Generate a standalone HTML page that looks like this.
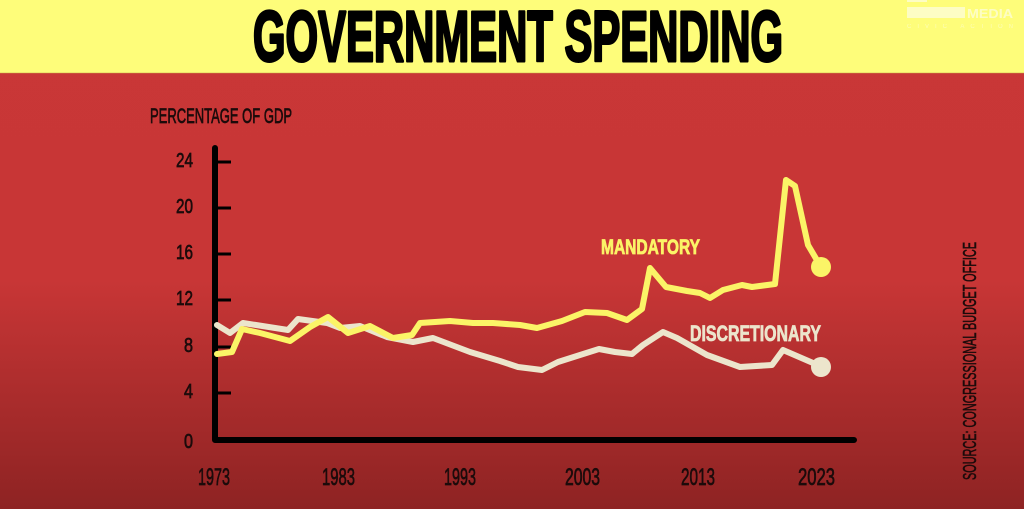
<!DOCTYPE html>
<html>
<head>
<meta charset="utf-8">
<style>
html,body{margin:0;padding:0;width:1024px;height:509px;overflow:hidden;background:#c83737;}
svg{display:block;}
</style>
</head>
<body>
<svg width="1024" height="509" viewBox="0 0 1024 509" xmlns="http://www.w3.org/2000/svg">
  <defs>
    <linearGradient id="bg" x1="0" y1="0" x2="0" y2="1">
      <stop offset="0" stop-color="#c93737"/>
      <stop offset="0.55" stop-color="#c83636"/>
      <stop offset="1" stop-color="#8e2323"/>
    </linearGradient>
  </defs>
  <rect x="0" y="0" width="1024" height="509" fill="url(#bg)"/>
  <rect x="0" y="0" width="1024" height="73" fill="#fefd7a"/>
  <line x1="0" y1="73" x2="1024" y2="73" stroke="#c9a04a" stroke-width="1" opacity="0.5"/>

  <!-- logo (faint) -->
  <rect x="907" y="7" width="58" height="11" fill="#fdfdc4"/>
  <rect x="907" y="0" width="20" height="2" fill="#fdfdc4"/>
  <text x="967" y="18" font-family="Liberation Sans, sans-serif" font-size="13" font-weight="bold" fill="#fdfdc4" textLength="46" lengthAdjust="spacingAndGlyphs">MEDIA</text>
  <text x="907" y="28" font-family="Liberation Sans, sans-serif" font-size="6" fill="#fdfdc4" textLength="106" lengthAdjust="spacing" opacity="0.8">CIVIC ACTION</text>

  <!-- title -->
  <text x="253" y="61" font-family="Liberation Sans, sans-serif" font-size="71" font-weight="bold" fill="#000" stroke="#000" stroke-width="3" stroke-linejoin="round" textLength="530" lengthAdjust="spacingAndGlyphs">GOVERNMENT SPENDING</text>

  <!-- y axis title -->
  <text x="150" y="123" font-family="Liberation Sans, sans-serif" font-size="21" fill="#1c0b0b" stroke="#1c0b0b" stroke-width="0.7" textLength="142" lengthAdjust="spacingAndGlyphs">PERCENTAGE OF GDP</text>

  <!-- axes -->
  <path d="M215 148 L215 440 L854 440" fill="none" stroke="#000" stroke-width="6" stroke-linecap="round" stroke-linejoin="round"/>
  <g stroke="#000" stroke-width="3">
    <line x1="215" y1="162" x2="231" y2="162"/>
    <line x1="215" y1="208" x2="231" y2="208"/>
    <line x1="215" y1="254" x2="231" y2="254"/>
    <line x1="215" y1="300" x2="231" y2="300"/>
    <line x1="215" y1="347" x2="231" y2="347"/>
    <line x1="215" y1="393" x2="231" y2="393"/>
  </g>

  <!-- y tick labels -->
  <g font-family="Liberation Sans, sans-serif" font-size="20" fill="#1c0b0b" stroke="#1c0b0b" stroke-width="0.7" text-anchor="end">
    <text x="193" y="167" textLength="17" lengthAdjust="spacingAndGlyphs">24</text>
    <text x="193" y="213" textLength="17" lengthAdjust="spacingAndGlyphs">20</text>
    <text x="193" y="259" textLength="17" lengthAdjust="spacingAndGlyphs">16</text>
    <text x="193" y="305" textLength="17" lengthAdjust="spacingAndGlyphs">12</text>
    <text x="193" y="352" textLength="9" lengthAdjust="spacingAndGlyphs">8</text>
    <text x="193" y="398" textLength="9" lengthAdjust="spacingAndGlyphs">4</text>
    <text x="193" y="448" textLength="9" lengthAdjust="spacingAndGlyphs">0</text>
  </g>

  <!-- x tick labels -->
  <g font-family="Liberation Sans, sans-serif" font-size="24" fill="#1c0b0b" stroke="#1c0b0b" stroke-width="0.7">
    <text x="198" y="485" textLength="32" lengthAdjust="spacingAndGlyphs">1973</text>
    <text x="322" y="485" textLength="33" lengthAdjust="spacingAndGlyphs">1983</text>
    <text x="444" y="485" textLength="32" lengthAdjust="spacingAndGlyphs">1993</text>
    <text x="565" y="485" textLength="35" lengthAdjust="spacingAndGlyphs">2003</text>
    <text x="681" y="485" textLength="34" lengthAdjust="spacingAndGlyphs">2013</text>
    <text x="798" y="485" textLength="37" lengthAdjust="spacingAndGlyphs">2023</text>
  </g>

  <!-- discretionary -->
  <polyline fill="none" stroke="#ece5cc" stroke-width="6" stroke-linejoin="round" stroke-linecap="round"
    points="217,325 230,333 243,323 288,330 298,319 327,323 340,328 360,326 387,337 413,342 433,338 470,352 500,361 518,367 542,370 558,362 580,355 599,349 615,352 632,354 643,345 663,332 677,338 707,355 740,367 772,365 783,350 820,366"/>
  <circle cx="821" cy="367" r="10" fill="#ece5cc"/>

  <!-- mandatory -->
  <polyline fill="none" stroke="#fbf467" stroke-width="6" stroke-linejoin="round" stroke-linecap="round"
    points="217,354 232,352 242,329 260,333 290,341 310,327 328,317 348,333 370,326 393,338 412,335 420,323 450,321 473,323 493,323 520,325 537,328 562,321 585,312 607,313 627,320 642,309 650,268 666,287 687,291 700,293 710,298 723,290 742,285 752,287 775,284 786,180 795,186 808,245 821,267"/>
  <circle cx="821" cy="267" r="10" fill="#fbf467"/>

  <!-- series labels -->
  <text x="601" y="254" font-family="Liberation Sans, sans-serif" font-size="21" font-weight="bold" fill="#fbf467" stroke="#fbf467" stroke-width="0.8" textLength="99" lengthAdjust="spacingAndGlyphs">MANDATORY</text>
  <text x="690" y="341" font-family="Liberation Sans, sans-serif" font-size="22" font-weight="bold" fill="#ece5cc" stroke="#ece5cc" stroke-width="0.8" textLength="131" lengthAdjust="spacingAndGlyphs">DISCRETIONARY</text>

  <!-- source -->
  <text transform="translate(976,480) rotate(-90)" x="0" y="0" font-family="Liberation Sans, sans-serif" font-size="18" fill="#1c0b0b" stroke="#1c0b0b" stroke-width="0.6" textLength="238" lengthAdjust="spacingAndGlyphs">SOURCE: CONGRESSIONAL BUDGET OFFICE</text>
</svg>
</body>
</html>
